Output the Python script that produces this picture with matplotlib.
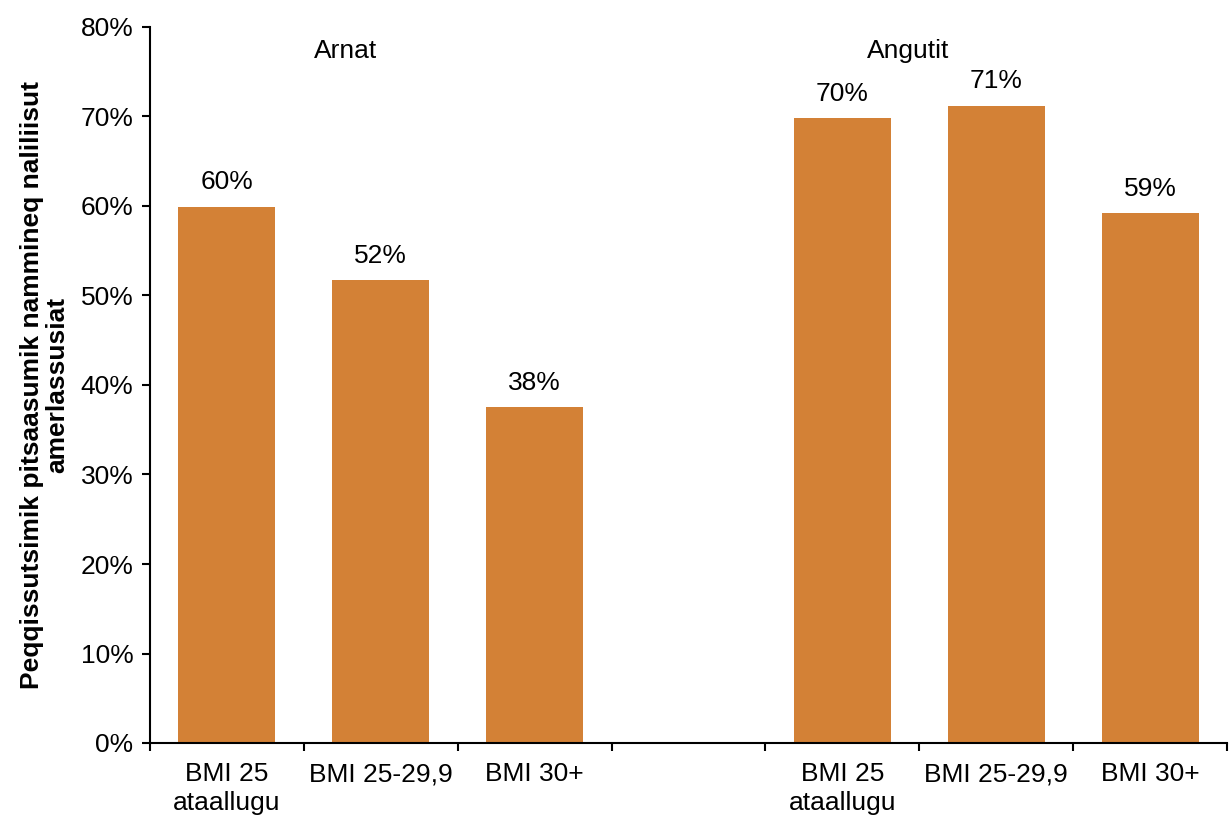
import matplotlib.pyplot as plt
import numpy as np

plt.rcParams['font.family'] = ['Liberation Sans', 'DejaVu Sans']

# categories (index 3 is an empty gap between the groups)
categories = ["BMI 25\nataallugu", "BMI 25-29,9", "BMI 30+", "",
              "BMI 25\nataallugu", "BMI 25-29,9", "BMI 30+"]
values = [59.9, 51.7, 37.5, None, 69.8, 71.2, 59.2]
value_labels = ["60%", "52%", "38%", "", "70%", "71%", "59%"]
groups = ["Arnat", "Angutit"]
group_pos = [0.77, 4.43]

bar_color = '#D38136'
fs = 19

fig = plt.figure(figsize=(12.31, 8.19), dpi=100)
ax = fig.add_axes([150 / 1231, 1 - 743 / 819, (1227 - 150) / 1231, (743 - 27) / 819])

x = np.arange(len(categories))
for i, v in enumerate(values):
    if v is None:
        continue
    ax.bar(x[i], v, width=0.63, color=bar_color)
    ax.annotate(value_labels[i], (x[i], v), xytext=(0, 9), textcoords='offset points',
                ha='center', va='bottom', fontsize=fs)

for g, p in zip(groups, group_pos):
    ax.text(p, 77.3, g, ha='center', va='center', fontsize=fs)

ax.set_xlim(-0.5, len(categories) - 0.5)
ax.set_ylim(0, 80)
ax.set_yticks(np.arange(0, 81, 10))
ax.set_yticklabels([f"{t}%" for t in range(0, 81, 10)], fontsize=fs)

ax.set_xticks(x)
ax.set_xticklabels(categories, fontsize=fs, linespacing=1.25)
ax.tick_params(axis='x', which='major', length=0, pad=14)
ax.set_xticks(np.arange(-0.5, len(categories), 1), minor=True)
ax.tick_params(axis='x', which='minor', length=6, width=1.5, direction='out')
ax.tick_params(axis='y', length=6, width=1.5, direction='out', pad=6)

for s in ['top', 'right']:
    ax.spines[s].set_visible(False)
for s in ['left', 'bottom']:
    ax.spines[s].set_linewidth(1.5)

ax.set_ylabel("Peqqissutsimik pitsaasumik nammineq naliliisut\namerlassusiat",
              fontsize=fs, fontweight='bold', labelpad=8, linespacing=1.05)

fig.savefig('out.png', dpi=100)
